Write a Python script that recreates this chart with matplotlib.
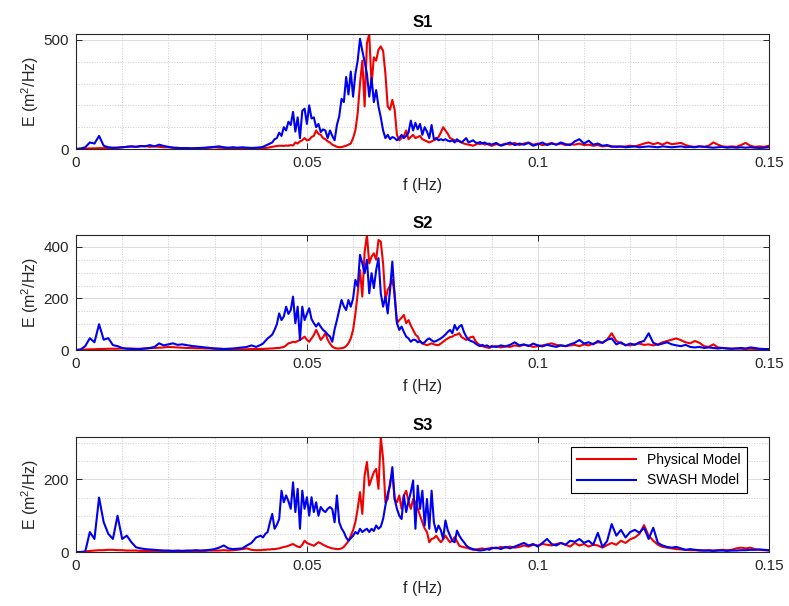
import numpy as np
import matplotlib
matplotlib.use("Agg")
from matplotlib import pyplot as plt
from matplotlib.ticker import MultipleLocator

plt.rcParams['font.family'] = ['Liberation Sans', 'DejaVu Sans']
plt.rcParams['mathtext.default'] = 'regular'

# frequency bins: 0.001 Hz steps outside the peak band, 0.0005 Hz inside it
freq = np.concatenate([np.arange(40) * 0.001,
                       0.04 + np.arange(100) * 0.0005,
                       0.09 + np.arange(61) * 0.001])

# ---- S1 ----
s1_phys = [
    # 0.000 - 0.039
    0, 1, 2, 3, 3, 4, 4, 5, 6, 6, 8, 10, 12, 10, 12, 14, 10, 12, 10, 8,
    8, 6, 5, 4, 4, 3, 4, 4, 5, 6, 8, 6, 5, 4, 5, 4, 4, 3, 3, 4,
    # 0.0400 - 0.0895
    3, 4, 5, 6, 8, 10, 12, 14, 15, 15,
    14, 16, 15, 18, 16, 30, 25, 35, 40, 50,
    40, 42, 55, 60, 85, 70, 65, 50, 45, 35,
    30, 20, 15, 10, 8, 9, 12, 15, 20, 25,
    50, 85, 165, 300, 405, 195, 485, 527, 295, 420,
    405, 455, 470, 450, 345, 195, 180, 225, 180, 65,
    40, 50, 60, 85, 45, 55, 65, 50, 55, 60,
    45, 40, 35, 30, 35, 40, 45, 55, 75, 100,
    85, 70, 50, 45, 40, 35, 38, 30, 25, 22,
    20, 18, 15, 20, 25, 22, 28, 20, 25, 18,
    # 0.090 - 0.150
    15, 22, 18, 25, 20, 28, 18, 25, 30, 20, 25, 18, 22, 28, 20, 25, 18, 22, 20, 25,
    18, 20, 15, 18, 12, 15, 10, 12, 10, 12, 15, 12, 18, 25, 30, 22, 28, 20, 30, 22,
    25, 28, 18, 12, 10, 12, 10, 15, 30, 20, 12, 10, 12, 10, 18, 28, 15, 10, 12, 10,
    15]
s1_swash = [
    0, 2, 8, 30, 25, 60, 15, 8, 5, 6, 8, 10, 12, 10, 14, 12, 18, 12, 20, 14,
    10, 6, 5, 4, 4, 3, 4, 5, 6, 8, 10, 12, 8, 6, 8, 6, 8, 6, 5, 6,
    8, 10, 15, 20, 25, 30, 45, 50, 75, 60,
    100, 85, 125, 110, 170, 80, 145, 50, 175, 185,
    115, 200, 140, 145, 100, 115, 78, 90, 85, 50,
    85, 60, 40, 110, 150, 230, 215, 330, 250, 355,
    240, 345, 405, 505, 450, 400, 345, 240, 325, 215,
    270, 195, 145, 85, 50, 65, 45, 55, 50, 40,
    50, 65, 50, 60, 75, 130, 85, 120, 90, 115,
    65, 100, 80, 50, 110, 45, 50, 40, 45, 40,
    45, 38, 35, 40, 30, 45, 35, 30, 40, 50,
    30, 35, 40, 30, 28, 32, 25, 30, 22, 25,
    20, 28, 15, 22, 30, 18, 25, 20, 28, 15, 22, 30, 18, 25, 20, 30, 22, 18, 35, 45,
    25, 38, 20, 25, 15, 18, 12, 10, 12, 8, 10, 12, 8, 10, 12, 10, 8, 12, 10, 8,
    10, 12, 8, 10, 8, 12, 10, 8, 6, 8, 10, 6, 8, 6, 8, 6, 8, 6, 5, 6,
    8]

# ---- S2 ----
s2_phys = [
    0, 1, 2, 3, 3, 4, 4, 5, 5, 5, 6, 6, 6, 5, 5, 6, 7, 8, 9, 10,
    12, 11, 10, 9, 8, 8, 7, 7, 6, 6, 5, 5, 4, 4, 4, 3, 3, 3, 4, 4,
    4, 4, 5, 5, 6, 6, 7, 8, 8, 10,
    12, 18, 26, 28, 32, 30, 35, 39, 45, 52,
    40, 32, 45, 58, 78, 60, 39, 50, 65, 40,
    25, 13, 8, 6, 6, 7, 9, 15, 26, 45,
    78, 140, 220, 310, 207, 380, 446, 336, 362, 375,
    350, 427, 420, 336, 194, 233, 250, 272, 220, 104,
    116, 125, 136, 104, 116, 95, 78, 60, 52, 32,
    25, 22, 19, 22, 26, 22, 20, 19, 25, 32,
    39, 45, 50, 52, 58, 60, 65, 50, 45, 39,
    45, 50, 52, 35, 25, 19, 15, 12, 10, 8,
    12, 15, 10, 14, 12, 18, 15, 20, 18, 12, 15, 18, 22, 26, 20, 18, 15, 18, 20, 15,
    22, 18, 25, 30, 28, 40, 65, 35, 26, 20, 18, 22, 25, 20, 22, 18, 22, 30, 35, 40,
    45, 38, 30, 26, 35, 28, 15, 12, 22, 10, 8, 6, 5, 6, 5, 4, 5, 4, 3, 4,
    3]
s2_swash = [
    0, 2, 15, 46, 30, 100, 40, 46, 19, 15, 8, 5, 4, 3, 4, 6, 8, 12, 26, 18,
    22, 26, 20, 22, 19, 16, 14, 12, 10, 8, 6, 5, 4, 5, 6, 8, 10, 12, 18, 12,
    20, 25, 35, 45, 52, 60, 78, 100, 142, 116,
    130, 168, 140, 155, 207, 104, 168, 39, 168, 116,
    140, 162, 120, 104, 91, 104, 90, 78, 71, 60,
    52, 32, 80, 116, 155, 194, 170, 155, 194, 168,
    200, 272, 246, 369, 336, 298, 350, 220, 298, 240,
    310, 356, 220, 168, 207, 142, 233, 343, 207, 104,
    78, 91, 70, 52, 45, 32, 40, 39, 30, 35,
    26, 30, 40, 45, 38, 32, 35, 40, 45, 52,
    60, 70, 78, 65, 97, 78, 91, 97, 70, 52,
    40, 35, 32, 25, 19, 15, 20, 15, 18, 12,
    15, 12, 18, 14, 20, 30, 18, 22, 15, 25, 18, 14, 20, 16, 12, 18, 15, 22, 28, 39,
    25, 30, 22, 35, 28, 40, 45, 22, 30, 18, 25, 20, 30, 35, 65, 28, 20, 25, 30, 22,
    18, 15, 20, 12, 10, 12, 8, 10, 8, 6, 8, 6, 5, 6, 8, 6, 10, 8, 5, 4,
    3]

# ---- S3 ----
s3_phys = [
    0, 0, 1, 3, 4, 5, 5, 6, 6, 5, 5, 4, 4, 4, 3, 3, 3, 3, 3, 3,
    3, 3, 3, 3, 3, 3, 3, 3, 3, 4, 4, 4, 5, 4, 5, 6, 8, 10, 6, 5,
    5, 6, 6, 7, 7, 8, 8, 9, 10, 12,
    14, 15, 17, 20, 22, 18, 15, 13, 20, 31,
    25, 22, 20, 17, 22, 27, 24, 20, 17, 14,
    12, 10, 9, 8, 8, 10, 14, 22, 30, 45,
    60, 82, 120, 165, 105, 211, 248, 183, 202, 220,
    229, 174, 317, 257, 137, 146, 192, 220, 146, 137,
    156, 119, 156, 169, 140, 119, 146, 137, 120, 100,
    82, 65, 55, 27, 36, 38, 45, 35, 27, 35,
    45, 35, 27, 32, 41, 30, 17, 15, 13, 12,
    10, 8, 6, 7, 8, 9, 10, 8, 9, 10,
    12, 10, 14, 12, 15, 12, 14, 18, 15, 20, 18, 22, 20, 18, 22, 25, 20, 15, 25, 18,
    22, 15, 20, 18, 12, 19, 25, 20, 31, 25, 35, 40, 50, 74, 45, 31, 20, 14, 12, 10,
    8, 7, 6, 5, 5, 4, 4, 5, 4, 5, 6, 5, 6, 10, 12, 10, 12, 8, 6, 5,
    4]
s3_swash = [
    0, 0, 1, 55, 36, 150, 82, 50, 36, 100, 36, 45, 27, 13, 10, 8, 7, 6, 5, 4,
    4, 3, 4, 3, 4, 4, 5, 4, 5, 6, 8, 12, 18, 10, 8, 9, 10, 18, 25, 40,
    45, 40, 50, 55, 82, 105, 64, 75, 91, 169,
    137, 156, 140, 119, 192, 110, 174, 64, 169, 119,
    151, 100, 151, 110, 137, 100, 124, 115, 110, 119,
    124, 118, 82, 156, 82, 65, 55, 40, 31, 38,
    45, 55, 50, 64, 55, 60, 64, 55, 64, 58,
    73, 64, 70, 91, 128, 160, 183, 234, 146, 119,
    100, 91, 156, 110, 140, 165, 197, 64, 183, 119,
    169, 73, 146, 64, 169, 82, 55, 73, 60, 36,
    87, 60, 45, 30, 27, 59, 45, 35, 27, 18,
    13, 10, 8, 6, 5, 4, 5, 6, 8, 6,
    10, 12, 8, 14, 10, 15, 20, 25, 18, 22, 15, 25, 36, 22, 18, 25, 20, 31, 28, 36,
    25, 31, 20, 53, 14, 30, 77, 45, 61, 40, 55, 61, 53, 67, 36, 67, 25, 18, 14, 12,
    14, 10, 6, 8, 6, 5, 4, 4, 3, 4, 4, 3, 4, 4, 5, 5, 6, 6, 7, 6,
    5]

stations = ['S1', 'S2', 'S3']
phys_all = [s1_phys, s2_phys, s3_phys]
swash_all = [s1_swash, s2_swash, s3_swash]
y_major = [[0, 500], [0, 200, 400], [0, 200]]
y_minor = [100, 50, 50]

fig = plt.figure(figsize=(7.89, 6.06), dpi=100)
bottoms = [0.7541, 0.4224, 0.0891]
txt = '#262626'

for i in range(3):
    ax = fig.add_axes([0.0963, bottoms[i], 0.878, 0.1898])
    ax.plot(freq, phys_all[i], color='#f00000', lw=1.5, label='Physical Model')
    ax.plot(freq, swash_all[i], color='#0000f0', lw=1.5, label='SWASH Model')
    ax.set_xlim(0, 0.15)
    ax.set_ylim(0, max(max(phys_all[i]), max(swash_all[i])))
    ax.set_xticks([0, 0.05, 0.1, 0.15])
    ax.set_xticklabels(['0', '0.05', '0.1', '0.15'])
    ax.set_yticks(y_major[i])
    ax.xaxis.set_minor_locator(MultipleLocator(0.01))
    ax.yaxis.set_minor_locator(MultipleLocator(y_minor[i]))
    ax.grid(which='major', color='#dcdcdc', lw=0.7)
    ax.grid(which='minor', color='#cccccc', ls=':', lw=0.7)
    ax.set_axisbelow(True)
    ax.tick_params(which='major', direction='in', top=True, right=True,
                   length=4, width=0.7, labelsize=11, colors=txt, pad=5)
    ax.tick_params(which='minor', length=0)
    for sp in ax.spines.values():
        sp.set_color(txt)
        sp.set_linewidth(0.8)
    ax.set_title(stations[i], fontsize=12, fontweight='bold', pad=5)
    ax.set_xlabel('f (Hz)', fontsize=11.5, color=txt, labelpad=6)
    ax.set_ylabel('E (m$^2$/Hz)', fontsize=11.5, color=txt, labelpad=2)
    if i == 2:
        leg = ax.legend(loc='upper right', bbox_to_anchor=(0.968, 0.913),
                        borderaxespad=0, fontsize=10, handlelength=4.3,
                        fancybox=False, framealpha=1, edgecolor='black')
        leg.get_frame().set_linewidth(0.8)

plt.savefig('out.png', dpi=100)
